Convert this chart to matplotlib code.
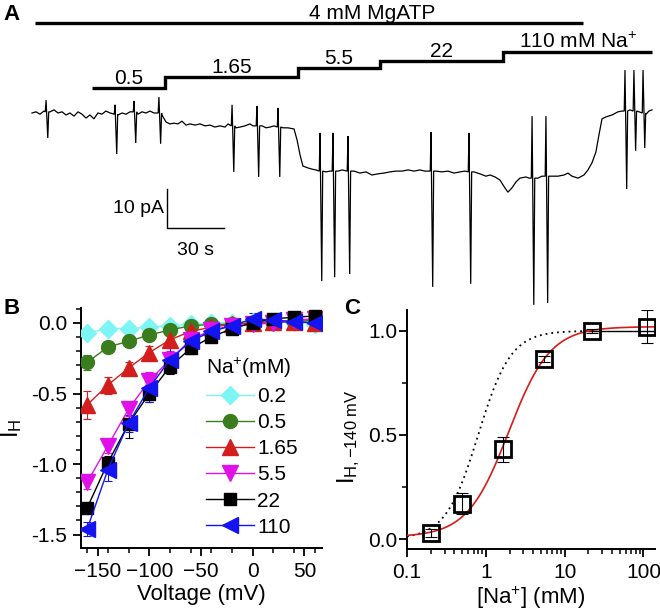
import numpy as np
import matplotlib
matplotlib.use("Agg")
import matplotlib.pyplot as plt
from matplotlib.ticker import MultipleLocator, FixedLocator, LogLocator, NullFormatter

plt.rcParams['font.family'] = ['Liberation Sans', 'DejaVu Sans']
plt.rcParams['mathtext.fontset'] = 'custom'
plt.rcParams['mathtext.rm'] = 'Liberation Sans'
plt.rcParams['mathtext.it'] = 'Liberation Sans:italic'
plt.rcParams['mathtext.bf'] = 'Liberation Sans:bold'

# ---------------- Panel A data: current trace (time s, current pA) ----------------
trace_t = [0, 2.1, 4.2, 6.3, 9.5, 11.6, 13.7, 15.8, 17.9, 20, 22.1, 24.2, 26.3, 28.4, 30.5,
           32.6, 34.7, 36.8, 38.9, 41.1, 45.3, 47.4, 49.5, 51.6, 55.8, 57.9, 60, 62.1, 64.2,
           68.4, 70.5, 72.6, 74.7, 76.8, 78.9, 81.1, 83.2, 85.8, 88.4, 91.1, 93.7, 96.3, 98.9,
           101.6, 103.2, 107.4, 109.5, 112.1, 114.7, 116.3, 121.1, 123.2, 125.3, 127.4, 132.1,
           134.7, 137.9, 139.5, 141.1, 142.6, 145.3, 147.4, 149.5, 154.7, 156.8, 161.1, 163.2,
           169.5, 172.6, 175.8, 178.9, 182.1, 185.3, 188.4, 191.6, 194.7, 197.9, 201.1, 204.2,
           206.8, 212.6, 215.8, 218.9, 222.1, 225.3, 227.9, 232.6, 235.8, 238.9, 241.1, 243.7,
           246.3, 248.9, 250.5, 252.6, 254.7, 256.8, 260, 261.6, 266.3, 268.4, 273.7, 276.8,
           280, 282.1, 284.2, 287.4, 290.5, 292.6, 294.7, 296.8, 298.4, 300, 302.1, 305.3,
           308.4, 310.5, 314.7, 319.5, 323.2, 324.7, 326.3]
trace_i = [0, 0.3, -0.3, 0.5, 0.3, 0.8, 0, 0.3, -0.5, 0, -0.8, 0.3, -0.3, -1.3, -0.5,
           -1.5, 0, -0.3, 0.5, 0, -0.5, 0, -0.3, 0.3, -0.3, 0.3, 0, 0.5, 0,
           -0.5, -2.3, -2.8, -2.6, -2.8, -2.1, -3.1, -2.8, -3.1, -2.8, -3.3, -3.1, -3.6, -3.3,
           -3.6, -2.8, -3.8, -3.6, -3.3, -2.8, -3.3, -3.3, -3.8, -3.6, -3.3, -3.8,
           -3.8, -4.1, -6.9, -10.8, -13.6, -14.1, -14.4, -14.6, -15.1, -14.9, -14.9, -14.6,
           -14.9, -15.4, -15.1, -15.9, -15.6, -15.4, -15.1, -14.9, -14.9, -14.6, -14.9, -14.6,
           -14.9, -14.9, -15.1, -14.9, -15.4, -15.1, -14.9, -15.1, -15.6, -16.2, -15.9, -16.4,
           -17.2, -19.2, -20.3, -19.2, -17.7, -16.7, -16.4, -16.7, -16.7, -16.2, -16.2, -16.2,
           -15.9, -15.4, -16.2, -16.7, -15.9, -14.6, -12.8, -10.0, -5.6, -1.5, -1.0, -0.5,
           0.3, 0.5, 0.8, 0.3, -0.3, 0.5, 0.8]
# voltage-pulse transients: time, local baseline, positive peak, negative peak (pA)
spike_t = [7.4, 43.7, 53.7, 66.8, 105.3, 118.4, 129.5, 151.6, 158.4, 166.3, 210, 230,
           263.2, 270.5, 312.1, 316.8, 321.6]
spike_base = [0.3, -0.3, 0.3, 0.0, -3.3, -3.3, -3.6, -14.9, -14.9, -14.9, -14.9, -15.1,
              -16.7, -16.2, 0.5, 0.5, 0.0]
spike_up = [3.3, 2.1, 3.1, 4.1, 2.1, 1.8, 1.3, -5.1, -5.1, -5.9, -4.9, -5.1,
            -0.8, -0.8, 11, 11, 11]
spike_down = [-6.4, -10.5, -7.7, -7.9, -15.1, -16.4, -16.4, -43.1, -42.1, -41.3, -44.6, -43.8,
              -49.2, -48.7, -19.5, -9.7, -9.0]
# solution exchange times (s)
na_switch_t = [31.6, 70.0, 140.0, 183.2, 247.9, 326.3]
na_labels = ['0.5', '1.65', '5.5', '22', '110 mM Na$^{+}$']
mgatp_t = [1.6, 290.0]
scale_t = 30   # s
scale_i = 10   # pA

# ---------------- Panel B data ----------------
voltage = [-160, -140, -120, -100, -80, -60, -40, -20, 0, 20, 40, 60]
na_b_labels = ['0.2', '0.5', '1.65', '5.5', '22', '110']
ih_02 = [-0.07, -0.04, -0.04, -0.03, -0.02, -0.01, 0.0, 0.0, 0.01, 0.01, 0.01, -0.01]
ih_05 = [-0.28, -0.17, -0.13, -0.085, -0.05, -0.02, -0.01, -0.01, 0.0, 0.0, 0.01, 0.02]
ih_165 = [-0.58, -0.44, -0.32, -0.21, -0.12, -0.06, -0.03, -0.01, 0.0, 0.01, 0.01, 0.0]
ih_55 = [-1.13, -0.87, -0.61, -0.41, -0.26, -0.12, -0.05, -0.02, -0.01, 0.0, 0.02, 0.03]
ih_22 = [-1.31, -0.99, -0.715, -0.50, -0.31, -0.18, -0.10, -0.04, 0.0, 0.03, 0.04, 0.05]
ih_110 = [-1.46, -1.04, -0.71, -0.46, -0.26, -0.13, -0.06, -0.02, 0.03, 0.02, 0.01, 0.0]
err_02 = [0.01, 0.01, 0.01, 0.01, 0.01, 0.01, 0.01, 0.01, 0.01, 0.01, 0.01, 0.01]
err_05 = [0.05, 0.03, 0.02, 0.02, 0.02, 0.02, 0.02, 0.02, 0.01, 0.01, 0.01, 0.01]
err_165 = [0.10, 0.06, 0.04, 0.05, 0.05, 0.03, 0.02, 0.02, 0.01, 0.01, 0.01, 0.01]
err_55 = [0.05, 0.05, 0.05, 0.06, 0.06, 0.04, 0.03, 0.02, 0.02, 0.02, 0.02, 0.02]
err_22 = [0.03, 0.05, 0.10, 0.06, 0.05, 0.04, 0.03, 0.02, 0.02, 0.02, 0.02, 0.02]
err_110 = [0.05, 0.08, 0.06, 0.10, 0.08, 0.05, 0.03, 0.02, 0.04, 0.02, 0.02, 0.02]

# ---------------- Panel C data ----------------
na_conc = [0.2, 0.5, 1.65, 5.5, 22, 110]
ih140 = [0.03, 0.17, 0.43, 0.865, 1.0, 1.02]
ih140_err = [0.02, 0.05, 0.06, 0.015, 0.01, 0.08]
# Hill fits: K (mM), n, bottom, top
fit_red = dict(K=1.95, n=1.65, bottom=0.01, top=1.02)
fit_ref = dict(K=0.8, n=2.1, bottom=0.0, top=1.0)

# ================= Figure =================
W, H = 660, 610
fig = plt.figure(figsize=(6.6, 6.1), dpi=100)

# ---- Panel A ----
px_per_s = 1.9
px_per_pA = 3.9
x0_px, y0_px = 32, 113
axA = fig.add_axes([0, 1 - 320 / H, 1, 320 / H])
axA.set_xlim(-x0_px / px_per_s, (W - x0_px) / px_per_s)
axA.set_ylim((y0_px - 320) / px_per_pA, y0_px / px_per_pA)
axA.axis('off')

def ypx(y):
    return (y0_px - y) / px_per_pA

pts = list(zip(trace_t, trace_i))
for t, b, u, d in zip(spike_t, spike_base, spike_up, spike_down):
    pts += [(t - 0.4, b), (t, u), (t + 0.9, d), (t + 1.4, b)]
pts.sort(key=lambda p: p[0])
tt = [p[0] for p in pts]
ii = [p[1] for p in pts]
axA.plot(tt, ii, color='black', lw=0.9, solid_joinstyle='miter')

# solution bars
axA.plot(mgatp_t, [ypx(23)] * 2, color='black', lw=2.4, solid_capstyle='butt')
axA.text(179, ypx(19), '4 mM MgATP', ha='center', va='baseline', fontsize=15)
levels_px = [88, 77, 68, 61, 52]
sx, sy = [], []
for k in range(5):
    sx += [na_switch_t[k], na_switch_t[k + 1]]
    sy += [ypx(levels_px[k])] * 2
axA.plot(sx, sy, color='black', lw=2.4, solid_joinstyle='miter', solid_capstyle='butt')
for k in range(5):
    xc = 0.5 * (na_switch_t[k] + na_switch_t[k + 1])
    axA.text(xc, ypx(levels_px[k] - 4), na_labels[k], ha='center', va='baseline', fontsize=15)

# scale bar
sb_t0 = (167 - x0_px) / px_per_s
sb_i0 = ypx(228)
axA.plot([sb_t0, sb_t0, sb_t0 + scale_t], [sb_i0 + scale_i, sb_i0, sb_i0],
         color='black', lw=1.0)
axA.text(sb_t0 - 1.5, sb_i0 + scale_i / 2, '%d pA' % scale_i, ha='right', va='center', fontsize=14)
axA.text(sb_t0 + scale_t / 2, sb_i0 - 3.5, '%d s' % scale_t, ha='center', va='top', fontsize=14)

# ---- Panel B ----
def fig_rect(l, t, r, b):
    return [l / W, 1 - b / H, (r - l) / W, (b - t) / H]

axB = fig.add_axes(fig_rect(81, 308, 322, 548))
colors = ['#7DF5F5', '#3A7D1E', '#D41E1E', '#E010E8', '#000000', '#1414F0']
markers = ['D', 'o', '^', 'v', 's', '<']
msizes = [9.5, 10, 11, 11, 9, 11]
series = [ih_02, ih_05, ih_165, ih_55, ih_22, ih_110]
errs = [err_02, err_05, err_165, err_55, err_22, err_110]
handles = []
for y, e, c, m, ms in zip(series, errs, colors, markers, msizes):
    axB.errorbar(voltage, y, yerr=e, fmt='none', ecolor=c, elinewidth=0.8, capsize=3,
                 capthick=0.8, zorder=2)
    h, = axB.plot(voltage, y, color=c, lw=1.0, marker=m, ms=ms, mfc=c, mec=c, zorder=3)
    handles.append(h)
axB.set_xlim(-166, 67)
axB.set_ylim(-1.595, 0.106)
axB.xaxis.set_major_locator(MultipleLocator(50))
axB.xaxis.set_minor_locator(MultipleLocator(20))
axB.yaxis.set_major_locator(MultipleLocator(0.5))
axB.yaxis.set_minor_locator(MultipleLocator(0.1))
axB.yaxis.set_major_formatter(matplotlib.ticker.FormatStrFormatter('%.1f'))
axB.set_xlabel('Voltage (mV)', fontsize=16, labelpad=2)
axB.set_ylabel(r'$\mathregular{I_H}$', fontsize=17)
axB.yaxis.set_label_coords(-0.235, 0.5)
leg = axB.legend(handles, na_b_labels, title=r'Na$^{+}$(mM)', loc='upper left',
                 bbox_to_anchor=(0.52, 0.80), frameon=False, fontsize=15,
                 title_fontsize=15, handlelength=2.3, handletextpad=0.15,
                 labelspacing=0.34, borderpad=0, borderaxespad=0)
leg._legend_box.align = 'left'

# ---- Panel C ----
axC = fig.add_axes(fig_rect(407, 310, 655, 549))
xs = np.logspace(-1, np.log10(140), 400)
def hill(x, K, n, bottom, top):
    return bottom + (top - bottom) * x ** n / (x ** n + K ** n)
xd = xs[xs <= 20]
axC.plot(xd, hill(xd, **fit_ref), color='black', lw=1.3, ls=(0, (1, 2.2)), zorder=2)
xsld = xs[xs >= 20]
axC.plot(xsld, [fit_ref['top']] * len(xsld), color='black', lw=1.0, zorder=2)
axC.plot(xs, hill(xs, **fit_red), color='#D91A1A', lw=1.2, zorder=3)
axC.errorbar(na_conc, ih140, yerr=ih140_err, fmt='none', ecolor='black', elinewidth=0.8,
             capsize=4, capthick=0.8, zorder=4)
axC.plot(na_conc, ih140, ls='none', marker='s', ms=11, mfc='none', mec='black', mew=2.0, zorder=5)
axC.set_xscale('log')
axC.set_xlim(0.1, 140)
axC.set_ylim(-0.048, 1.10)
axC.xaxis.set_major_locator(FixedLocator([0.1, 1, 10, 100]))
axC.xaxis.set_major_formatter(matplotlib.ticker.FixedFormatter(['0.1', '1', '10', '100']))
axC.xaxis.set_minor_locator(LogLocator(base=10, subs=np.arange(2, 10)))
axC.xaxis.set_minor_formatter(NullFormatter())
axC.yaxis.set_major_locator(MultipleLocator(0.5))
axC.yaxis.set_minor_locator(MultipleLocator(0.25))
axC.yaxis.set_major_formatter(matplotlib.ticker.FormatStrFormatter('%.1f'))
axC.set_xlabel(r'[Na$^{+}$] (mM)', fontsize=16, labelpad=2)
axC.set_ylabel(r'$\mathregular{I_{H,{-}140\ mV}}$', fontsize=17)
axC.yaxis.set_label_coords(-0.18, 0.47)

for ax in (axB, axC):
    for s in ('top', 'right'):
        ax.spines[s].set_visible(False)
    for s in ('left', 'bottom'):
        ax.spines[s].set_linewidth(1.4)
    ax.tick_params(which='major', direction='out', length=6, width=1.3, labelsize=15, pad=4)
    ax.tick_params(which='minor', direction='out', length=3.5, width=1.1)
axC.tick_params(axis='y', which='major', pad=1)

fig.text(12 / W, 1 - 15 / H, 'A', fontsize=16, fontweight='bold', ha='center', va='center')
fig.text(12 / W, 1 - 309 / H, 'B', fontsize=16, fontweight='bold', ha='center', va='center')
fig.text(352 / W, 1 - 309 / H, 'C', fontsize=16, fontweight='bold', ha='center', va='center')

fig.savefig('out.png', dpi=100)
